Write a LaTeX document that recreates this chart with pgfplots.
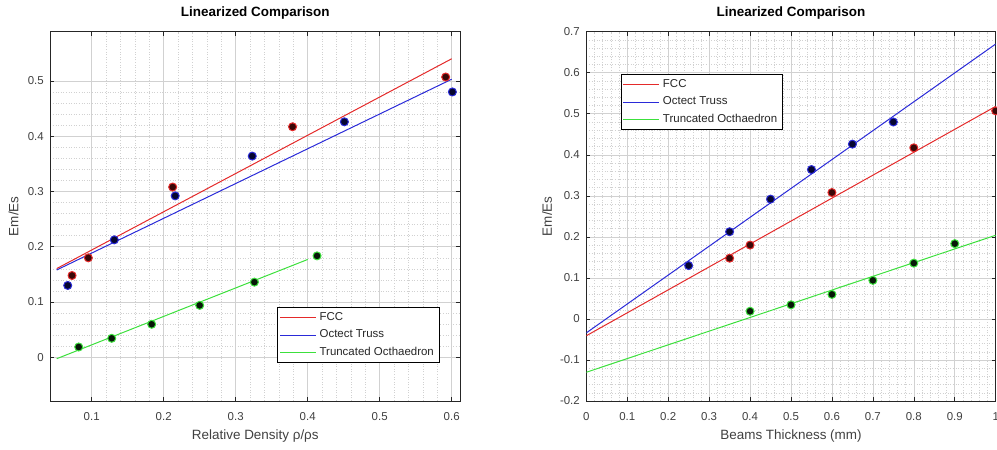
\documentclass[border=0pt]{standalone}
\usepackage{fontspec}
\setmainfont{Liberation Sans}
\usepackage{pgfplots}
\pgfplotsset{compat=1.18}
\definecolor{axgray}{HTML}{262626}
\definecolor{tickgray}{HTML}{404040}
\definecolor{lred}{HTML}{E42A2A}
\definecolor{lblue}{HTML}{2A2AD8}
\definecolor{lgreen}{HTML}{3CE03C}
\definecolor{fred}{HTML}{3A0808}
\definecolor{fblue}{HTML}{060630}
\definecolor{fgreen}{HTML}{081808}
\pgfplotsset{
  mystyle/.style={
    scale only axis,
    anchor=south west,
    axis line style={axgray, line width=0.7bp},
    tick style={axgray, line width=0.6bp},
    major tick length=4bp, minor tick length=0bp,
    tick align=inside,
    grid=both,
    minor tick num=4,
    major grid style={color=black!18, line width=0.6bp},
    minor grid style={color=black!18, line width=0.5bp, dash pattern=on 1bp off 1.6bp},
    /pgf/number format/assume math mode=true,
    ticklabel style={font=\fontsize{11.5}{13}\selectfont, text=tickgray},
    xticklabel style={yshift=-8bp},
    yticklabel style={xshift=-3bp},
    title style={font=\bfseries\fontsize{13.5}{15}\selectfont, text=black, at={(axis description cs:0.5,1.0255)}, anchor=base},
    xlabel style={font=\fontsize{13.5}{15}\selectfont, text=tickgray, at={(axis description cs:0.5,-0.104)}, anchor=base},
    ylabel style={font=\fontsize{13.5}{15}\selectfont, text=tickgray, anchor=base},
    legend style={font=\fontsize{11.5}{13}\selectfont, draw=black, line width=0.6bp, fill=white,
      inner xsep=2bp, inner ysep=1bp, row sep=0.3bp,
      nodes={text height=8.5bp, text depth=3bp, inner sep=3bp, text=axgray}},
    legend cell align=left,
    legend image code/.code={\draw[#1, line width=1bp] (0bp,0bp) -- (36bp,0bp);},
    fccm/.style={only marks, mark=*, mark size=4bp, mark options={fill=fred, draw=lred, line width=1bp}},
    octm/.style={only marks, mark=*, mark size=4bp, mark options={fill=fblue, draw=lblue, line width=1bp}},
    trum/.style={only marks, mark=*, mark size=4bp, mark options={fill=fgreen, draw=lgreen, line width=1bp}},
  }
}
\begin{document}
\begin{tikzpicture}
\useasboundingbox (0,0) rectangle (997bp,450bp);
% Left
\begin{axis}[mystyle,
  at={(50.3bp,49bp)}, width=410bp, height=369.3bp,
  xmin=0.0425, xmax=0.612, ymin=-0.079, ymax=0.589,
  xtick={0.1,0.2,0.3,0.4,0.5,0.6},
  ytick={0,0.1,0.2,0.3,0.4,0.5},
  title={Linearized Comparison},
  xlabel={Relative Density ρ/ρs},
  ylabel={Em/Es},
  ylabel style={at={(axis description cs:-0.0776,0.5)}},
  legend style={at={(axis description cs:0.5537,0.1029)}, anchor=south west},
]
\addplot[lred, line width=1bp] coordinates {(0.0514,0.1605) (0.6,0.540)};
\addlegendentry{FCC}
\addplot[lblue, line width=1bp] coordinates {(0.0514,0.158) (0.6,0.503)};
\addlegendentry{Octect Truss}
\addplot[lgreen, line width=1bp] coordinates {(0.0514,-0.0025) (0.4,0.177)};
\addlegendentry{Truncated Octhaedron}
\addplot[fccm, forget plot] coordinates {(0.0727,0.148) (0.0953,0.180) (0.2125,0.308) (0.379,0.417) (0.5917,0.507)};
\addplot[octm, forget plot] coordinates {(0.0667,0.130) (0.1314,0.2125) (0.216,0.292) (0.323,0.364) (0.451,0.426) (0.601,0.480)};
\addplot[trum, forget plot] coordinates {(0.082,0.0187) (0.1278,0.0344) (0.1833,0.0598) (0.25,0.094) (0.326,0.136) (0.413,0.1835)};
\end{axis}
% Right
\begin{axis}[mystyle,
  at={(586.3bp,49bp)}, width=409.4bp, height=369.3bp,
  xmin=0, xmax=1, ymin=-0.2, ymax=0.7,
  xtick={0,0.1,0.2,0.3,0.4,0.5,0.6,0.7,0.8,0.9,1},
  ytick={-0.2,-0.1,0,0.1,0.2,0.3,0.4,0.5,0.6,0.7},
  title={Linearized Comparison},
  xlabel={Beams Thickness (mm)},
  ylabel={Em/Es},
  ylabel style={at={(axis description cs:-0.0838,0.5)}},
  legend style={at={(axis description cs:0.084,0.8847)}, anchor=north west},
]
\addplot[lred, line width=1bp] coordinates {(0,-0.041) (1,0.518)};
\addlegendentry{FCC}
\addplot[lblue, line width=1bp] coordinates {(0,-0.034) (1,0.670)};
\addlegendentry{Octect Truss}
\addplot[lgreen, line width=1bp] coordinates {(0,-0.130) (1,0.204)};
\addlegendentry{Truncated Octhaedron}
\addplot[fccm, forget plot] coordinates {(0.35,0.148) (0.4,0.180) (0.6,0.308) (0.8,0.417) (1.0,0.507)};
\addplot[octm, forget plot] coordinates {(0.25,0.130) (0.35,0.2125) (0.45,0.292) (0.55,0.364) (0.65,0.426) (0.75,0.480)};
\addplot[trum, forget plot] coordinates {(0.4,0.0187) (0.5,0.0344) (0.6,0.0598) (0.7,0.094) (0.8,0.136) (0.9,0.1835)};
\end{axis}
\end{tikzpicture}
\end{document}
